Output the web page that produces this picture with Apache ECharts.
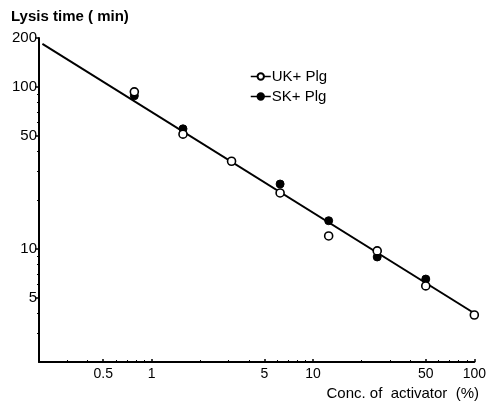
<!DOCTYPE html>
<html>
<head>
<meta charset="utf-8">
<script src="https://cdn.jsdelivr.net/npm/echarts@6/dist/echarts.min.js"></script>
<style>
html,body{margin:0;padding:0;background:#fff;}
#main{width:489px;height:403px;}
</style>
</head>
<body>
<div id="main"></div>
<script>
// concentrations (doubling dilutions, %)
var concUK=[0.78,1.5625,3.125,6.25,12.5,25,50,100];
var timeUK=[93,51,34.7,22.1,12,9.7,5.9,3.9];
var concSK=[0.78,1.5625,6.25,12.5,25,50];
var timeSK=[88,55,25.1,14.9,8.9,6.5];
// fitted line ends
var fitX=[0.21,100];
var fitY=[184,4];
// tick labels
var xMajor=[0.5,1,5,10,50,100];
var xMinor=[0.3,0.4,0.6,0.7,0.8,0.9,2,3,4,6,7,8,9,20,30,40,60,70,80,90];
var yMajor=[5,10,50,100,200];
var yMinor=[3,4,6,7,8,9,20,30,40,60,70,80,90];

function pairs(a,b){
	var out=[];
	for(var i=0;i<a.length;i++){out.push([a[i],b[i]]);}
	return out;
}

var font='Liberation Sans';
var myChart=echarts.init(document.getElementById('main'));
var option={
	animation:false,
	backgroundColor:'#fff',
	title:[
		{text:'Lysis time ( min)',left:6,top:4,textStyle:{fontFamily:font,fontSize:15,fontWeight:'bold',color:'#000'}},
		{text:'Conc. of  activator  (%)',right:5,top:381,textStyle:{fontFamily:font,fontSize:15,fontWeight:'normal',color:'#000'}}
	],
	legend:{
		orient:'vertical',
		left:245,
		top:64,
		itemWidth:20,
		itemHeight:8,
		itemGap:5,
		textStyle:{fontFamily:font,fontSize:15,color:'#000',padding:[0,0,0,-4]},
		lineStyle:{color:'#000',width:1.5,opacity:1},
		data:['UK+ Plg','SK+ Plg']
	},
	grid:{left:39,right:12,top:38,bottom:41},
	xAxis:[{
		type:'log',logBase:10,min:0.2,max:100,
		axisLine:{lineStyle:{color:'#000',width:2}},
		axisTick:{inside:true,length:3,customValues:xMajor,lineStyle:{color:'#000',width:1.5}},
		axisLabel:{customValues:xMajor,color:'#000',fontFamily:font,fontSize:14,margin:5},
		splitLine:{show:false}
	},{
		type:'log',logBase:10,min:0.2,max:100,position:'bottom',
		axisLine:{show:false},
		axisTick:{inside:true,length:2,customValues:xMinor,lineStyle:{color:'#000',width:1}},
		axisLabel:{show:false},
		splitLine:{show:false}
	}],
	yAxis:[{
		type:'log',logBase:10,min:2,max:200,
		axisLine:{lineStyle:{color:'#000',width:2}},
		axisTick:{length:4,customValues:yMajor,lineStyle:{color:'#000',width:1.5}},
		axisLabel:{customValues:yMajor,color:'#000',fontFamily:font,fontSize:15,margin:2},
		splitLine:{show:false}
	},{
		type:'log',logBase:10,min:2,max:200,position:'left',
		axisLine:{show:false},
		axisTick:{length:2,customValues:yMinor,lineStyle:{color:'#000',width:1}},
		axisLabel:{show:false},
		splitLine:{show:false}
	}],
	series:[{
		name:'fit',
		type:'line',
		data:pairs(fitX,fitY),
		symbol:'none',
		lineStyle:{color:'#000',width:2},
		z:1
	},{
		name:'UK+ Plg',
		type:'line',
		data:pairs(concUK,timeUK),
		symbol:'circle',
		symbolSize:8,
		itemStyle:{color:'#fff',borderColor:'#000',borderWidth:1.6},
		lineStyle:{opacity:0},
		z:3
	},{
		name:'SK+ Plg',
		type:'line',
		data:pairs(concSK,timeSK),
		symbol:'circle',
		symbolSize:8,
		itemStyle:{color:'#000',borderColor:'#000',borderWidth:1},
		lineStyle:{opacity:0},
		z:2
	}]
};
myChart.setOption(option);
</script>
</body>
</html>
